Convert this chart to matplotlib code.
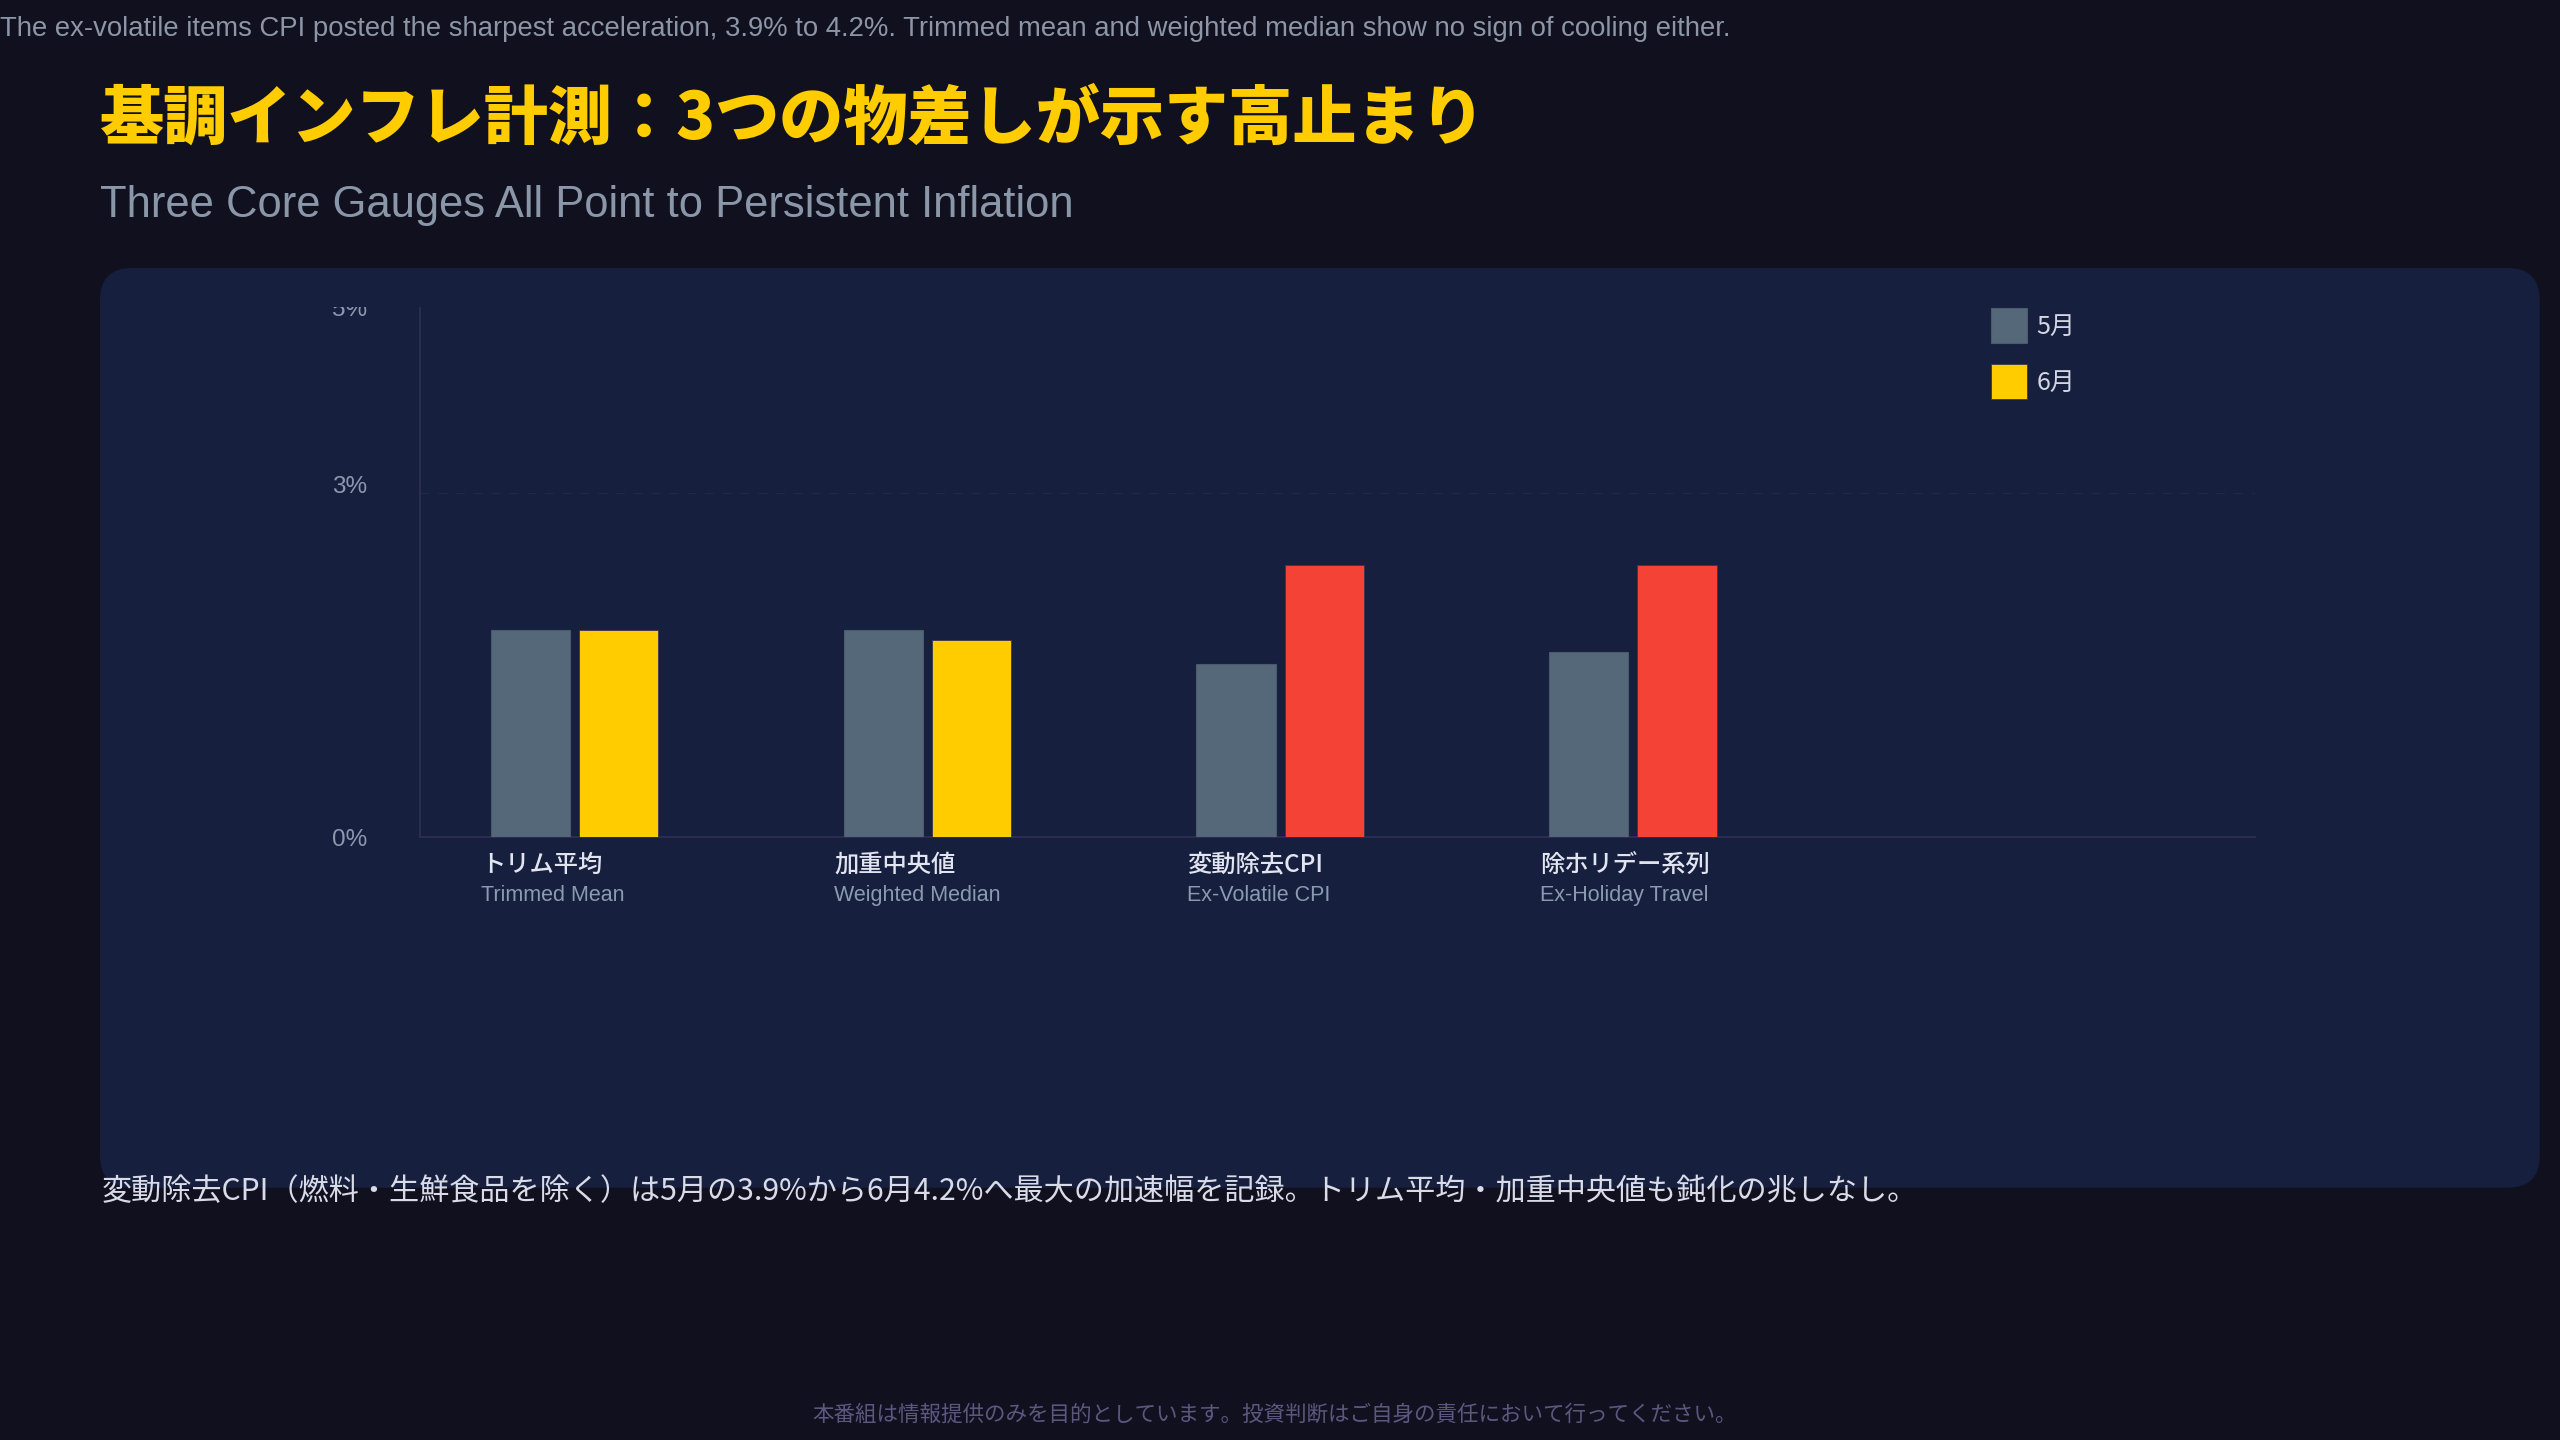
import matplotlib
matplotlib.use('Agg')
import matplotlib.pyplot as plt
import matplotlib.transforms as mtransforms
from matplotlib.patches import FancyBboxPatch, Rectangle
import numpy as np

# ---------------- data ----------------
categories_jp = ['トリム平均', '加重中央値', '変動除去CPI', '除ホリデー系列']
categories_en = ['Trimmed Mean', 'Weighted Median', 'Ex-Volatile CPI', 'Ex-Holiday Travel']
series_labels = ['5月', '6月']
may_values = [1.80, 1.80, 1.51, 1.61]
june_values = [1.80, 1.72, 2.37, 2.37]
june_highlight = [False, False, True, True]
y_max = 4.61
ytick_values = [0, 3, 4.61]
ytick_labels = ['0%', '3%', '5%']

caption = ('The ex-volatile items CPI posted the sharpest acceleration, 3.9% to 4.2%. '
           'Trimmed mean and weighted median show no sign of cooling either.')
title = '基調インフレ計測：3つの物差しが示す高止まり'
subtitle = 'Three Core Gauges All Point to Persistent Inflation'
note = ('変動除去CPI（燃料・生鮮食品を除く）は5月の3.9%から6月4.2%へ最大の加速幅を記録。'
        'トリム平均・加重中央値も鈍化の兆しなし。')
footer = '本番組は情報提供のみを目的としています。投資判断はご自身の責任において行ってください。'

# ---------------- style ----------------
W, H, DPI = 2560, 1440, 100
BG = '#10101f'
PANEL = '#16203e'
GREY = '#55687a'
YELLOW = '#ffcc00'
RED = '#f44336'
AXIS = '#2c2c52'
LATIN = ['Liberation Sans', 'Noto Sans CJK JP']
CJK = ['Noto Sans CJK JP', 'Liberation Sans']

plt.rcParams['font.family'] = CJK

fig = plt.figure(figsize=(W / DPI, H / DPI), dpi=DPI, facecolor=BG)
ident = mtransforms.IdentityTransform()


def fy(y):
    return H - y


# panel
panel = FancyBboxPatch((100, fy(1187.7)), 2539.7 - 100, 1187.7 - 268,
                       boxstyle='round,pad=0,rounding_size=32',
                       transform=ident, facecolor=PANEL, edgecolor='none', zorder=0)
fig.add_artist(panel)

renderer = fig.canvas.get_renderer()


def fig_text(x, y, s, target_w=None, **kw):
    t = fig.text(x, fy(y), s, transform=ident, **kw)
    if target_w is not None:
        bb = t.get_window_extent(renderer)
        t.set_fontsize(t.get_fontsize() * target_w / bb.width)
    return t


fig_text(0, 35.7, caption, target_w=1731, fontsize=16.5, color='#8c96a6',
         family=LATIN, va='baseline', ha='left')
fig_text(100, 139, title, target_w=1386, fontsize=46, color=YELLOW,
         family=CJK, weight='heavy', va='baseline', ha='left')
fig_text(100, 216.5, subtitle, target_w=973, fontsize=29, color='#8a97a8',
         family=LATIN, va='baseline', ha='left')
fig_text(101.5, 1200, note, target_w=1817, fontsize=20, color='#d9dbe8',
         family=CJK, va='baseline', ha='left')
fig_text(1275, 1421, footer, target_w=929, fontsize=15, color='#5b5880',
         family=CJK, va='baseline', ha='center')

# ---------------- axes ----------------
ax = fig.add_axes([420 / W, 1 - 837 / H, 1835 / W, 529 / H])
ax.set_facecolor('none')
x = np.arange(len(categories_jp))
off = 0.1249
bw = 0.2245
june_colors = [RED if h else YELLOW for h in june_highlight]
b1 = ax.bar(x - off, may_values, width=bw, color=GREY, edgecolor='#4a5a6c',
            linewidth=0.8, label=series_labels[0], zorder=3)
b2 = ax.bar(x + off, june_values, width=bw, color=june_colors, edgecolor='#3a3550',
            linewidth=0.6, label=series_labels[1], zorder=3)

ax.set_xlim(-0.4374, 4.763)
ax.set_ylim(0, y_max)
for s in ['top', 'right']:
    ax.spines[s].set_visible(False)
for s in ['left', 'bottom']:
    ax.spines[s].set_color(AXIS)
    ax.spines[s].set_linewidth(1.5)
ax.set_xticks([])
ax.set_yticks(ytick_values)
ax.set_yticklabels(ytick_labels)
ax.tick_params(axis='y', length=0, pad=38, labelsize=17.5, labelcolor='#8a99ad')
for lab in ax.get_yticklabels():
    lab.set_family(LATIN)
for v in ytick_values:
    if 0 < v < y_max:
        ax.axhline(v, color='#232848', linewidth=0.8, linestyle=(0, (8, 8)), zorder=1)

# category labels
xt = ax.get_xaxis_transform()
for i, (jp, en) in enumerate(zip(categories_jp, categories_en)):
    ax.text(x[i] - 0.264, (837 - 872) / 529, jp, transform=xt, ha='left', va='baseline',
            fontsize=17.5, color='#e2e4f0', family=CJK, weight='medium', clip_on=False)
    ax.text(x[i] - 0.264, (837 - 900.6) / 529, en, transform=xt, ha='left', va='baseline',
            fontsize=15.5, color='#8a9bb0', family=LATIN, clip_on=False)

# legend
leg = ax.legend(handles=[b1, b2], loc='upper left',
                bbox_to_anchor=(1990.5 / W, 1 - 308.3 / H), bbox_transform=fig.transFigure,
                frameon=False, fontsize=18, handlelength=1.45, handleheight=1.75,
                handletextpad=0.4, labelspacing=0.85, borderpad=0, borderaxespad=0)
for t in leg.get_texts():
    t.set_color('#d4d6e4')

# tick label tweaks
clip_rect = Rectangle((0, 0), W, H - 306.5, transform=ident)
for lab in ax.get_yticklabels():
    if lab.get_text() == '3%':
        lab.set_va('baseline')
    if lab.get_text() == '5%':
        lab.set_clip_path(clip_rect)
        lab.set_clip_on(True)

fig.savefig('out.png', dpi=DPI, facecolor=BG)
